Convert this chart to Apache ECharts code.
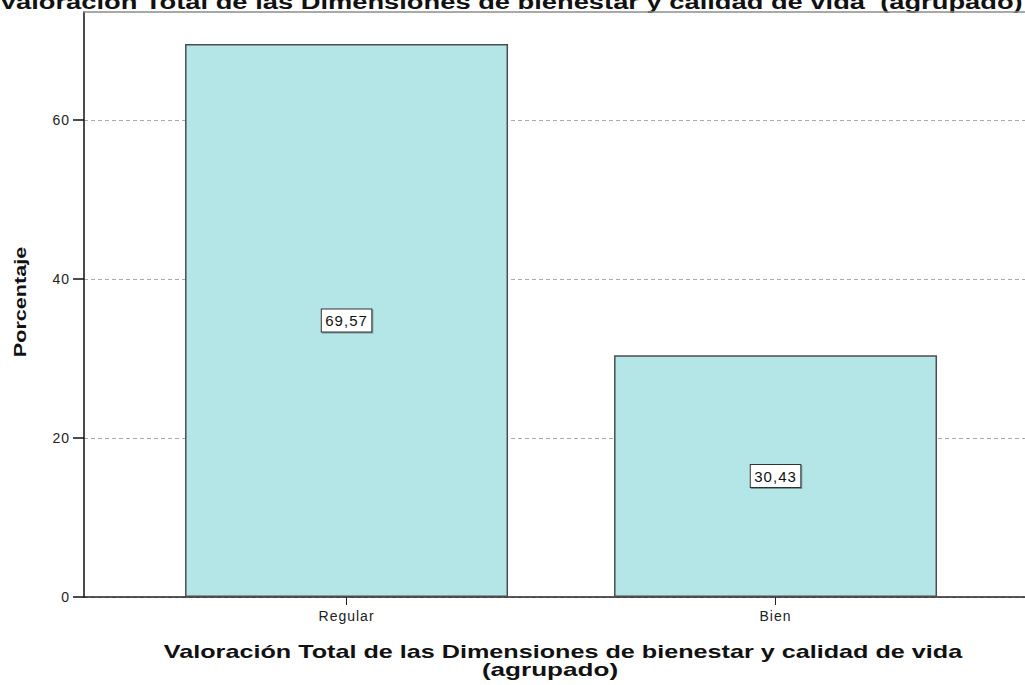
<!DOCTYPE html>
<html>
<head>
<meta charset="utf-8">
<style>
  html, body { margin: 0; padding: 0; background: #fff; overflow: hidden; }
  #chart { width: 1025px; height: 685px; }
</style>
<script src="https://cdn.jsdelivr.net/npm/echarts@6/dist/echarts.min.js"></script>
</head>
<body>
<div id="chart"></div>
<script>
// Porcentaje por categoría de la valoración agrupada
const categories = ['Regular', 'Bien'];
const percentages = [69.57, 30.43];
const yTicks = [0, 20, 40, 60];

const chartTitle = 'Valoración Total de las Dimensiones de bienestar y calidad de vida  (agrupado)';
const xTitle = ['Valoración Total de las Dimensiones de bienestar y calidad de vida', '(agrupado)'];
const yTitle = 'Porcentaje';

const FONT = '"Liberation Sans", Arial, sans-serif';
const positions = categories.map((_, i) => i);
const barData = percentages.map((v, i) => [positions[i], v]);
const fmt = v => v.toFixed(2).replace('.', ',');

// x range: category slots are 1 unit apart, the plot runs past the right edge
const X_MIN = -0.612;
const X_MAX = 1.5815;

// slightly wide lettering for the small labels (SVG text nodes)
const labelTracking = 1;

const chart = echarts.init(document.getElementById('chart'), null, { renderer: 'svg' });

chart.setOption({
  animation: false,
  backgroundColor: '#ffffff',
  grid: { left: 84, top: 12, right: 0, bottom: 88, show: false },
  xAxis: [{
    type: 'value',
    min: X_MIN,
    max: X_MAX,
    splitLine: { show: false },
    axisLine: { show: true, onZero: false, lineStyle: { color: '#222', width: 1.5 } },
    axisTick: { show: true, customValues: positions, length: 8, lineStyle: { color: '#222', width: 1 } },
    axisLabel: {
      customValues: positions,
      formatter: v => categories[Math.round(v)],
      color: '#222', fontFamily: FONT, fontSize: 14, margin: 12
    }
  }, {
    // upper frame line of the plot
    type: 'value',
    position: 'top',
    min: X_MIN,
    max: X_MAX,
    splitLine: { show: false },
    axisLine: { show: true, onZero: false, lineStyle: { color: '#8c8c8c', width: 1.5 } },
    axisTick: { show: false },
    axisLabel: { show: false }
  }],
  yAxis: {
    type: 'value',
    min: 0,
    max: 73.6,
    interval: 20,
    axisLine: { show: true, onZero: false, lineStyle: { color: '#111', width: 1.5 } },
    axisTick: { show: true, customValues: yTicks, length: 11, lineStyle: { color: '#111', width: 1.5 } },
    axisLabel: { customValues: yTicks, color: '#222', fontFamily: FONT, fontSize: 14, margin: 14 },
    splitLine: { show: true, lineStyle: { color: '#aaaaaa', type: [4, 3], width: 1 } }
  },
  series: [{
    type: 'bar',
    xAxisIndex: 0,
    data: barData,
    barWidth: 323,
    itemStyle: { color: '#b4e6e7', borderColor: '#4d4d4d', borderWidth: 1.5 },
    label: {
      show: true,
      position: 'inside',
      formatter: p => fmt(p.value[1]),
      color: '#111',
      fontFamily: FONT,
      fontSize: 15,
      backgroundColor: '#ffffff',
      borderColor: '#333',
      borderWidth: 1,
      padding: [4, 6, 3, 6],
      shadowColor: 'rgba(0,0,0,0.35)',
      shadowOffsetX: 1, shadowOffsetY: 1, shadowBlur: 1
    }
  }],
  graphic: [
    {
      type: 'text', x: 511, y: 2, scaleX: 1.40,
      style: { text: chartTitle, font: 'bold 19.5px ' + FONT, fill: '#111', textAlign: 'center', textVerticalAlign: 'middle' }
    },
    {
      type: 'text', x: 563, y: 652, scaleX: 1.4,
      style: { text: xTitle[0], font: 'bold 18px ' + FONT, fill: '#111', textAlign: 'center', textVerticalAlign: 'middle' }
    },
    {
      type: 'text', x: 550, y: 670, scaleX: 1.45,
      style: { text: xTitle[1], font: 'bold 18px ' + FONT, fill: '#111', textAlign: 'center', textVerticalAlign: 'middle' }
    },
    {
      type: 'text', x: 20, y: 302, rotation: Math.PI / 2, scaleX: 1.27,
      style: { text: yTitle, font: 'bold 17px ' + FONT, fill: '#111', textAlign: 'center', textVerticalAlign: 'middle' }
    }
  ]
});

const titleTexts = new Set([chartTitle, xTitle[0], xTitle[1], yTitle]);
function applyTracking() {
  document.querySelectorAll('#chart svg text').forEach(t => {
    if (!titleTexts.has(t.textContent)) t.setAttribute('letter-spacing', labelTracking + 'px');
  });
}
applyTracking();
chart.on('finished', applyTracking);
requestAnimationFrame(applyTracking);
</script>
</body>
</html>
